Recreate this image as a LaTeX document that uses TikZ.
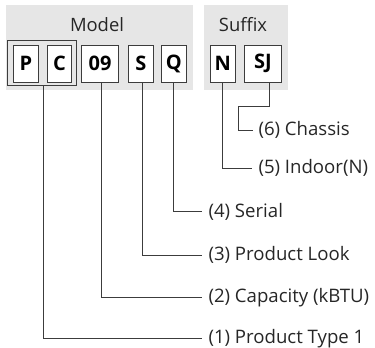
\documentclass[tikz,border=0pt]{standalone}
\usepackage{fontspec}
\setmainfont{Open Sans}
\definecolor{bggray}{RGB}{230,230,230}
\definecolor{linegray}{RGB}{60,60,60}
\begin{document}
\begin{tikzpicture}[x=1pt,y=-1pt,
  code/.style={draw=linegray,fill=white,line width=0.9pt,minimum height=37pt,inner sep=0pt,font=\fontsize{20}{20}\selectfont\bfseries},
  lbl/.style={anchor=west,inner sep=0pt,font=\fontsize{18.6}{18.6}\selectfont,text=black!85},
  head/.style={inner sep=0pt,font=\fontsize{18.4}{18.4}\selectfont,text=black!85},
  conn/.style={draw=linegray,line width=0.8pt}]
\useasboundingbox (0,0) rectangle (375,348);
\fill[bggray] (6,5) rectangle (193,90);
\fill[bggray] (204,5) rectangle (288,90);
\node[head] (model) at (97,25) {Model};
\node[head] (suffix) at (243,25) {Suffix};
\node[draw=linegray,line width=0.9pt,minimum width=69pt,minimum height=45pt,inner sep=0pt] (pc) at (42,63.3) {};
\node[code,minimum width=25pt] (p) at (25.8,63.5) {P};
\node[code,minimum width=24.4pt] (c) at (59.5,63.5) {C};
\node[code,minimum width=36.6pt] (n09) at (100,63.5) {09};
\node[code,minimum width=25pt] (s) at (140.8,63.5) {S};
\node[code,minimum width=24.3pt] (q) at (173.8,63.5) {Q};
\node[code,minimum width=25.7pt] (n) at (222.8,63.5) {N};
\node[code,minimum width=37.4pt] (sj) at (263,63.5) {SJ};
\node[lbl] (l6) at (258.3,130) {(6) Chassis};
\node[lbl] (l5) at (258.3,168.3) {(5) Indoor(N)};
\node[lbl] (l4) at (208.3,211.7) {(4) Serial};
\node[lbl] (l3) at (208.3,255) {(3) Product Look};
\node[lbl] (l2) at (208.3,297.3) {(2) Capacity (kBTU)};
\node[lbl] (l1) at (208.3,338.3) {(1) Product Type 1};
\coordinate (sjbend) at (238.3,106.7);
\draw[conn] ([xshift=6.3pt]sj.south) |- (sjbend) |- ([xshift=-5pt]l6.west);
\draw[conn] ([xshift=-0.5pt]n.south) |- ([xshift=-6pt]l5.west);
\draw[conn] ([xshift=-0.5pt]q.south) |- ([xshift=-6.6pt]l4.west);
\draw[conn] ([xshift=1.5pt]s.south) |- ([xshift=-6.6pt]l3.west);
\draw[conn] ([xshift=1.7pt]n09.south) |- ([xshift=-6.6pt]l2.west);
\draw[conn] ([xshift=1.3pt]pc.south) |- ([xshift=-6.6pt]l1.west);
\end{tikzpicture}
\end{document}
